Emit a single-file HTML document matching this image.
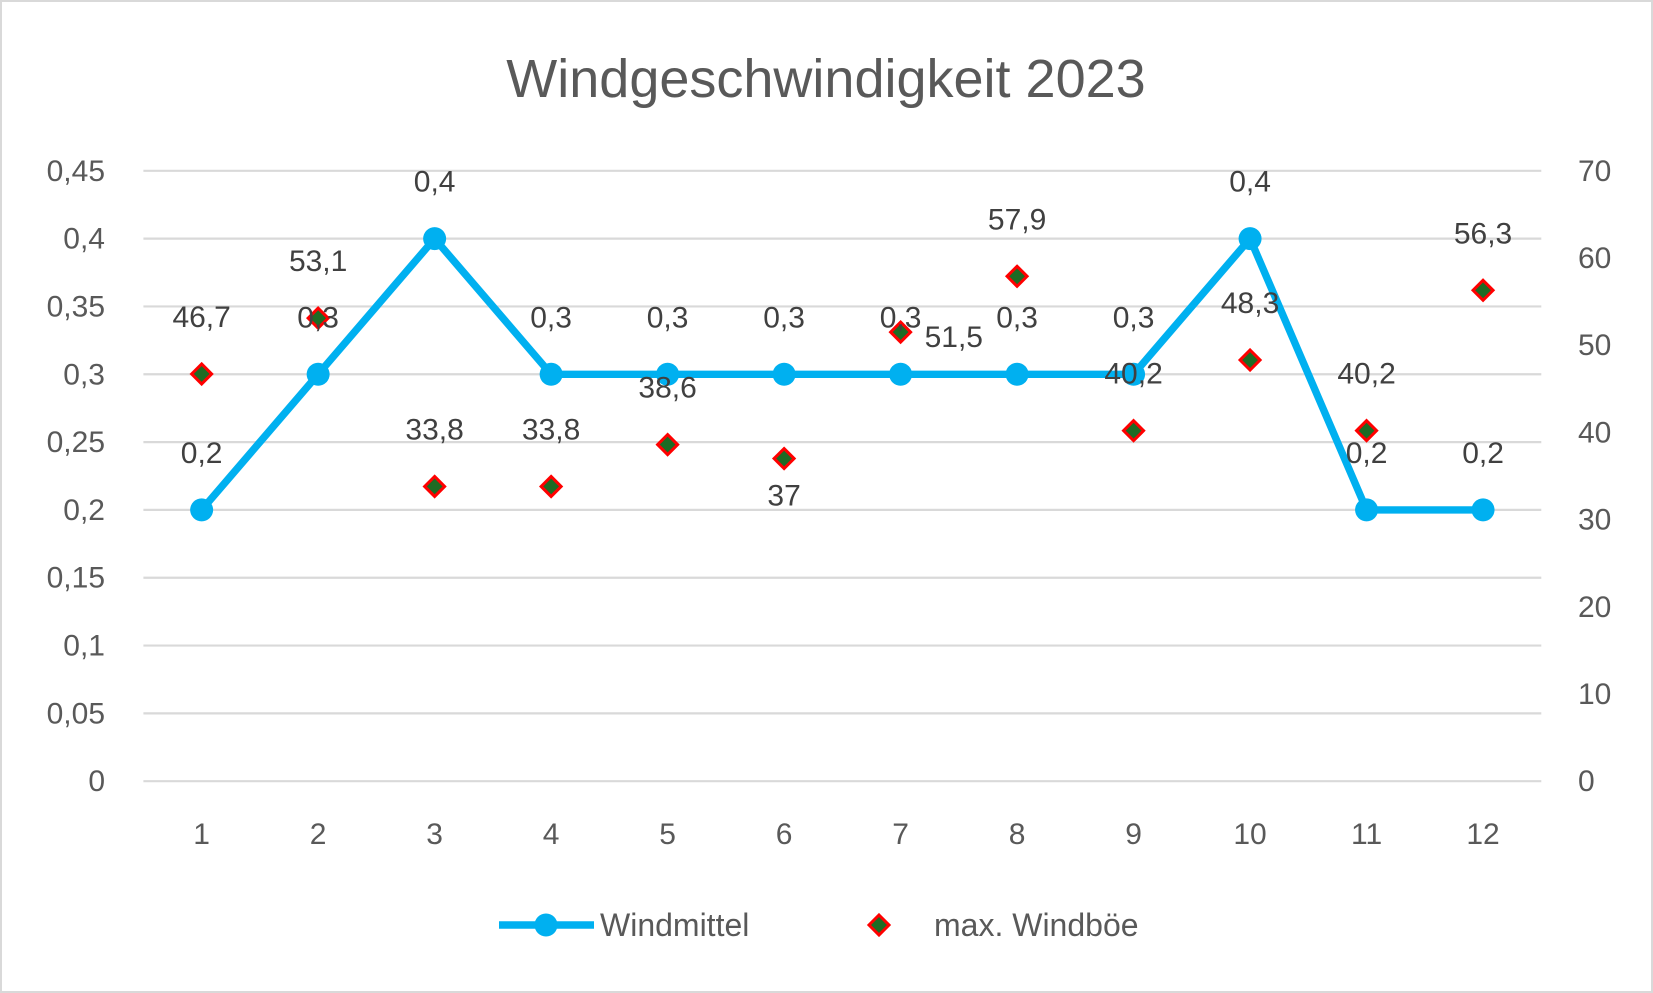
<!DOCTYPE html>
<html><head><meta charset="utf-8"><style>
html,body{margin:0;padding:0;background:#fff;}
svg{display:block;font-family:"Liberation Sans",sans-serif;}
</style></head><body>
<svg id="chart" width="1653" height="993" viewBox="0 0 1653 993">
<rect x="1" y="1" width="1651" height="991" fill="#fff" stroke="#d9d9d9" stroke-width="2"/>
<text x="826" y="97" text-anchor="middle" font-size="54" fill="#595959">Windgeschwindigkeit 2023</text>
<g id="grid"></g><g id="series"></g><g id="labels"></g>
<g>
<g>
<line x1="499" y1="925" x2="594" y2="925" stroke="#00b0f0" stroke-width="7.4"/>
<circle cx="546" cy="925" r="11.5" fill="#00b0f0"/>
<text x="600" y="936" font-size="32" fill="#595959">Windmittel</text></g>
<g>
<path d="M879,915 L889,925 L879,935 L869,925 Z" fill="#1e6b24" stroke="#ff0000" stroke-width="3"/>
<text x="934" y="936" font-size="32" fill="#595959">max. Windböe</text></g>
</g>
</svg>
<script>
const categories=["1","2","3","4","5","6","7","8","9","10","11","12"];
const windmittel=[0.2,0.3,0.4,0.3,0.3,0.3,0.3,0.3,0.3,0.4,0.2,0.2];
const windboee=[46.7,53.1,33.8,33.8,38.6,37,51.5,57.9,40.2,48.3,40.2,56.3];
const leftTicks=[0,0.05,0.1,0.15,0.2,0.25,0.3,0.35,0.4,0.45];
const rightTicks=[0,10,20,30,40,50,60,70];
const boeLabelPos=["above","above","above","above","above","below","right","above","above","above","above","above"];
const NS="http://www.w3.org/2000/svg";
const X0=143.4,X1=1541.3,Ytop=170.8,Ybot=781.2;
const step=(X1-X0)/categories.length;
const xS=i=>X0+step*(i+0.5);
const yL=v=>Ybot-(v/0.45)*(Ybot-Ytop);
const yR=v=>Ybot-(v/70)*(Ybot-Ytop);
const fmt=v=>String(v).replace('.',',');
function mk(tag,attrs,parent){const e=document.createElementNS(NS,tag);for(const k in attrs)e.setAttribute(k,attrs[k]);parent.appendChild(e);return e;}
const grid=document.getElementById('grid'),ser=document.getElementById('series'),lab=document.getElementById('labels');
leftTicks.forEach(t=>{
 const l=mk('line',{x1:X0,x2:X1,y1:yL(t),y2:yL(t),stroke:'#d9d9d9','stroke-width':2.2},grid);
 
 
 const tx=mk('text',{x:105,y:yL(t)+10,'text-anchor':'end','font-size':30,fill:'#595959'},grid);
 tx.textContent=fmt(t);
 
 
});
rightTicks.forEach(t=>{
 const tx=mk('text',{x:1578,y:yR(t)+10,'font-size':30,fill:'#595959'},grid);
 tx.textContent=t;
 
 
});
categories.forEach((c,i)=>{
 const tx=mk('text',{x:xS(i),y:844,'text-anchor':'middle','font-size':30,fill:'#595959'},grid);
 tx.textContent=c;
 
 
});
const pl=mk('polyline',{points:windmittel.map((v,i)=>xS(i)+','+yL(v)).join(' '),fill:'none',stroke:'#00b0f0','stroke-width':7.4,'stroke-linejoin':'round'},ser);


windmittel.forEach((v,i)=>{
 const c=mk('circle',{cx:xS(i),cy:yL(v),r:11.5,fill:'#00b0f0'},ser);
 
 
 const t=mk('text',{x:xS(i),y:yL(v)-47,'text-anchor':'middle','font-size':30,fill:'#404040'},lab);
 t.textContent=fmt(v);
 
 
});
windboee.forEach((v,i)=>{
 const x=xS(i),y=yR(v);
 const d=mk('path',{d:`M${x},${y-10} L${x+10},${y} L${x},${y+10} L${x-10},${y} Z`,fill:'#1e6b24',stroke:'#ff0000','stroke-width':3},ser);
 
 
 const p=boeLabelPos[i];
 let tx=x,ty=y-47,anchor='middle';
 if(p==='below'){ty=y+47;}
 if(p==='right'){tx=x+24;ty=y+15;anchor='start';}
 const t=mk('text',{x:tx,y:ty,'text-anchor':anchor,'font-size':30,fill:'#404040'},lab);
 t.textContent=fmt(v);
 
 
});
</script>
</body></html>
